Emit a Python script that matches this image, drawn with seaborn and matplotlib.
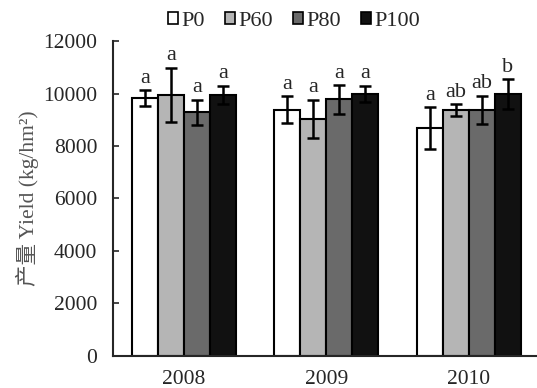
import pandas as pd
import seaborn as sns
import matplotlib.pyplot as plt

# data
years = ['2008', '2009', '2010']
treatments = ['P0', 'P60', 'P80', 'P100']
p0 = [9820, 9380, 8680]
p60 = [9950, 9030, 9370]
p80 = [9280, 9780, 9380]
p100 = [9950, 9980, 9980]
p0_err = [300, 520, 800]
p60_err = [1030, 740, 220]
p80_err = [490, 540, 540]
p100_err = [350, 320, 560]
p0_sig = ['a', 'a', 'a']
p60_sig = ['a', 'a', 'ab']
p80_sig = ['a', 'a', 'ab']
p100_sig = ['a', 'a', 'b']

means = {'P0': p0, 'P60': p60, 'P80': p80, 'P100': p100}
errs = {'P0': p0_err, 'P60': p60_err, 'P80': p80_err, 'P100': p100_err}
sigs = {'P0': p0_sig, 'P60': p60_sig, 'P80': p80_sig, 'P100': p100_sig}

rows = []
for t in treatments:
    for i, y in enumerate(years):
        rows.append({'Year': y, 'Treatment': t, 'Yield': means[t][i]})
df = pd.DataFrame(rows)

sns.set_style('ticks')
plt.rcParams['font.family'] = ['Liberation Serif', 'Noto Sans CJK SC']

colors = ['#ffffff', '#b5b5b5', '#6a6a6a', '#111111']

fig = plt.figure(figsize=(5.37, 3.88), dpi=100)
ax = fig.add_axes([0.21, 0.083, 0.79, 0.811])

sns.barplot(data=df, x='Year', y='Yield', hue='Treatment', hue_order=treatments,
            palette=colors, width=0.73, errorbar=None, edgecolor='black',
            linewidth=1.5, saturation=1, ax=ax)

for container, t in zip(ax.containers, treatments):
    for bar, m, e, s in zip(container, means[t], errs[t], sigs[t]):
        xc = bar.get_x() + bar.get_width() / 2
        ax.errorbar(xc, m, yerr=e, color='black', capsize=4, elinewidth=1.8,
                    capthick=1.8, zorder=5)
        ax.text(xc, m + e + 100, s, ha='center', va='bottom', fontsize=16)

ax.set_ylim(0, 12000)
ax.set_xlim(-0.5, 2.48)
ax.set_yticks(range(0, 12001, 2000))
ax.tick_params(axis='y', direction='in', length=4, width=1.2, labelsize=15.5, pad=11)
ax.tick_params(axis='x', length=0, labelsize=15.5, pad=10)
ax.set_xlabel('')
ax.set_ylabel('产量 Yield (kg/hm²)', fontsize=15.5, color='#555555', labelpad=3)
for s in ['top', 'right']:
    ax.spines[s].set_visible(False)
for s in ['left', 'bottom']:
    ax.spines[s].set_linewidth(1.5)

leg = ax.legend(loc='center', bbox_to_anchor=(0.427, 1.063), ncol=4, frameon=False,
                fontsize=16, handlelength=0.45, handleheight=0.45, handletextpad=0.15,
                columnspacing=0.9, borderaxespad=0)
for h in leg.legend_handles:
    h.set_linewidth(1.2)

fig.savefig('out.png', dpi=100)
